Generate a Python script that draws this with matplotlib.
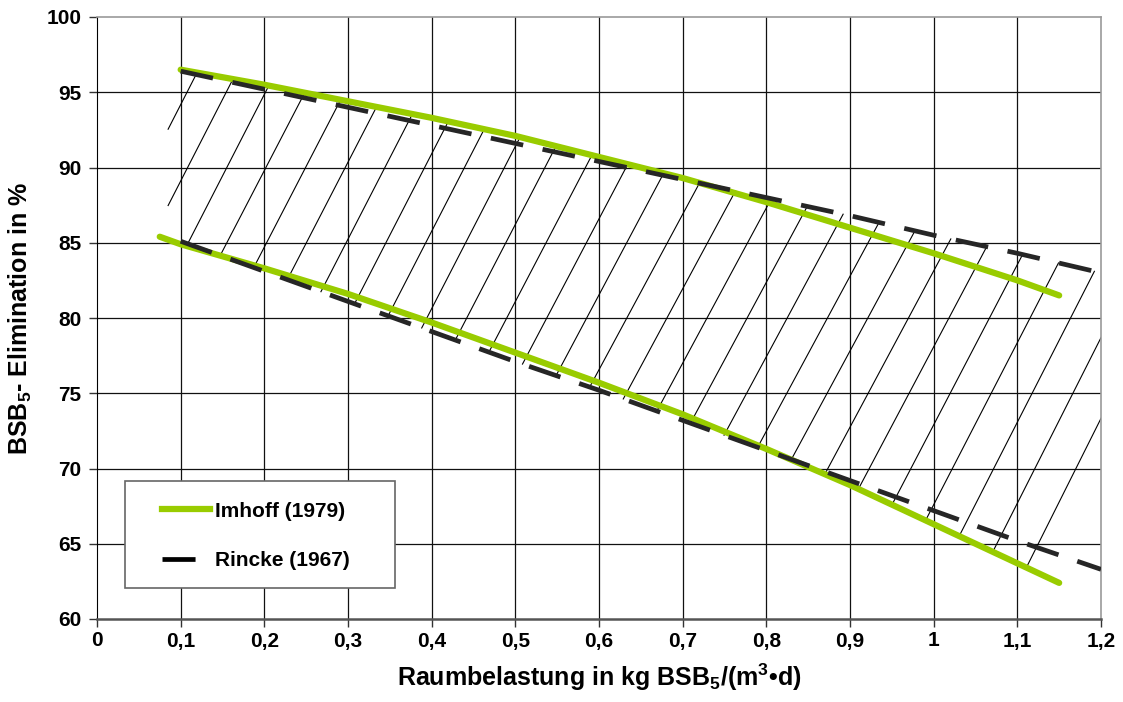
import numpy as np
from matplotlib import pyplot as plt
from matplotlib.lines import Line2D
from matplotlib.patches import Rectangle

plt.rcParams['font.family'] = ['Liberation Sans', 'DejaVu Sans']
plt.rcParams['font.weight'] = 'bold'
plt.rcParams['axes.labelweight'] = 'bold'
plt.rcParams['mathtext.fontset'] = 'custom'
plt.rcParams['mathtext.rm'] = 'Liberation Sans:bold'
plt.rcParams['mathtext.bf'] = 'Liberation Sans:bold'
plt.rcParams['mathtext.default'] = 'bf'

# Imhoff (1979): upper and lower limit of the elimination band
imhoff_x_up = [0.1, 0.2, 0.3, 0.4, 0.5, 0.6, 0.7, 0.8, 0.9, 1.0, 1.1, 1.15]
imhoff_up = [96.5, 95.5, 94.4, 93.3, 92.1, 90.7, 89.3, 87.7, 86.0, 84.3, 82.5, 81.5]
imhoff_x_lo = [0.075, 0.1, 0.2, 0.3, 0.4, 0.5, 0.6, 0.7, 0.8, 0.9, 1.0, 1.1, 1.15]
imhoff_lo = [85.4, 84.9, 83.3, 81.6, 79.7, 77.7, 75.7, 73.6, 71.3, 68.9, 66.3, 63.7, 62.4]

# Rincke (1967)
rincke_x = [0.1, 0.2, 0.3, 0.4, 0.5, 0.6, 0.7, 0.8, 0.9, 1.0, 1.1, 1.2]
rincke_up = [96.4, 95.2, 94.0, 92.8, 91.6, 90.4, 89.2, 88.0, 86.8, 85.5, 84.3, 83.0]
rincke_lo = [85.1, 83.1, 81.1, 79.1, 77.1, 75.2, 73.2, 71.2, 69.2, 67.2, 65.2, 63.3]

xticks = np.round(np.arange(0, 1.21, 0.1), 1)
yticks = np.arange(60, 101, 5)

green = '#99cc00'
dark = '#262626'

fig = plt.figure(figsize=(11.23, 7.02), dpi=100)
ax = fig.add_axes([97 / 1123, 1 - 619 / 702, 1004 / 1123, 602 / 702])
ax.set_xlim(0, 1.2)
ax.set_ylim(60, 100)

# grid
for xv in xticks[1:-1]:
    ax.axvline(xv, color='#111111', lw=0.9, zorder=1)
for yv in yticks[1:-1]:
    ax.axhline(yv, color='#111111', lw=0.9, zorder=1)


def boundary(x, which):
    # envelope of both sources, linearly continued past the last point
    xs = np.linspace(0.05, 1.3, 400)
    if which == 'up':
        a = np.interp(xs, imhoff_x_up, imhoff_up, left=np.nan, right=np.nan)
        b = np.interp(xs, rincke_x, rincke_up, left=np.nan, right=np.nan)
        env = np.fmax(a, b)
    else:
        a = np.interp(xs, imhoff_x_lo, imhoff_lo, left=np.nan, right=np.nan)
        b = np.interp(xs, rincke_x, rincke_lo, left=np.nan, right=np.nan)
        env = np.fmin(a, b)
    ok = ~np.isnan(env)
    p0 = np.polyfit(xs[ok][:20], env[ok][:20], 1)
    p1 = np.polyfit(xs[ok][-20:], env[ok][-20:], 1)
    x = np.asarray(x, float)
    y = np.interp(x, xs[ok], env[ok])
    y = np.where(x < xs[ok][0], np.polyval(p0, x), y)
    y = np.where(x > xs[ok][-1], np.polyval(p1, x), y)
    return y


# hatching between the limits: a fan of thin lines
hatch_left = 0.085
for j in range(-1, 27):
    xt = 0.1625 + 0.0429 * j
    xb = xt - (0.0956 + 0.00275 * j)
    yt = boundary(xt, 'up')
    yb = boundary(xb, 'lo')
    if xb < hatch_left:
        yb = yb + (yt - yb) * (hatch_left - xb) / (xt - xb)
        xb = hatch_left
    if xt <= xb:
        continue
    ax.plot([xb, xt], [yb, yt], color='black', lw=0.8, zorder=2)

# curves
ax.plot(imhoff_x_up, imhoff_up, color=green, lw=4.5, solid_capstyle='round', zorder=3)
ax.plot(imhoff_x_lo, imhoff_lo, color=green, lw=4.5, solid_capstyle='round', zorder=3)
for ys in (rincke_up, rincke_lo):
    ln, = ax.plot(rincke_x, ys, color=dark, lw=3.4, solid_capstyle='butt', zorder=4)
    ln.set_dashes((7.0, 4.2))

ax.set_xticks(xticks)
ax.set_yticks(yticks)
ax.set_xticklabels([f'{v:g}'.replace('.', ',') for v in xticks])
ax.tick_params(axis='both', labelsize=15, length=6, width=1, direction='out', color='#333333')
ax.tick_params(axis='x', pad=3)
ax.tick_params(axis='y', pad=5)

ax.spines['left'].set_color('#000000')
ax.spines['bottom'].set_color('#555555')
ax.spines['bottom'].set_linewidth(1.8)
for s in ('top', 'right'):
    ax.spines[s].set_color('#9a9a9a')
    ax.spines[s].set_linewidth(1.2)

ax.set_xlabel(r'Raumbelastung in kg BSB$_5$/(m$^3$•d)', fontsize=18, labelpad=8)
ax.set_ylabel(r'BSB$_5$- Elimination in %', fontsize=18, labelpad=9)

# legend box and entries
ax.add_patch(Rectangle((0.028, 0.051), 0.269, 0.178, transform=ax.transAxes,
                       facecolor='white', edgecolor='#666666', lw=1.2, zorder=5))
handles = [Line2D([], [], color=green, lw=4.5),
           Line2D([], [], color='black', lw=3.4, linestyle=(0, (7.0, 10)))]
leg = ax.legend(handles, ['Imhoff (1979)', 'Rincke (1967)'], loc='upper left',
                bbox_to_anchor=(0.0647, 0.195), borderaxespad=0, borderpad=0,
                prop={'weight': 'bold', 'size': 15}, handlelength=2.3,
                handletextpad=0.25, labelspacing=1.45, frameon=False)
leg.set_zorder(6)

fig.savefig('out.png', dpi=100)
